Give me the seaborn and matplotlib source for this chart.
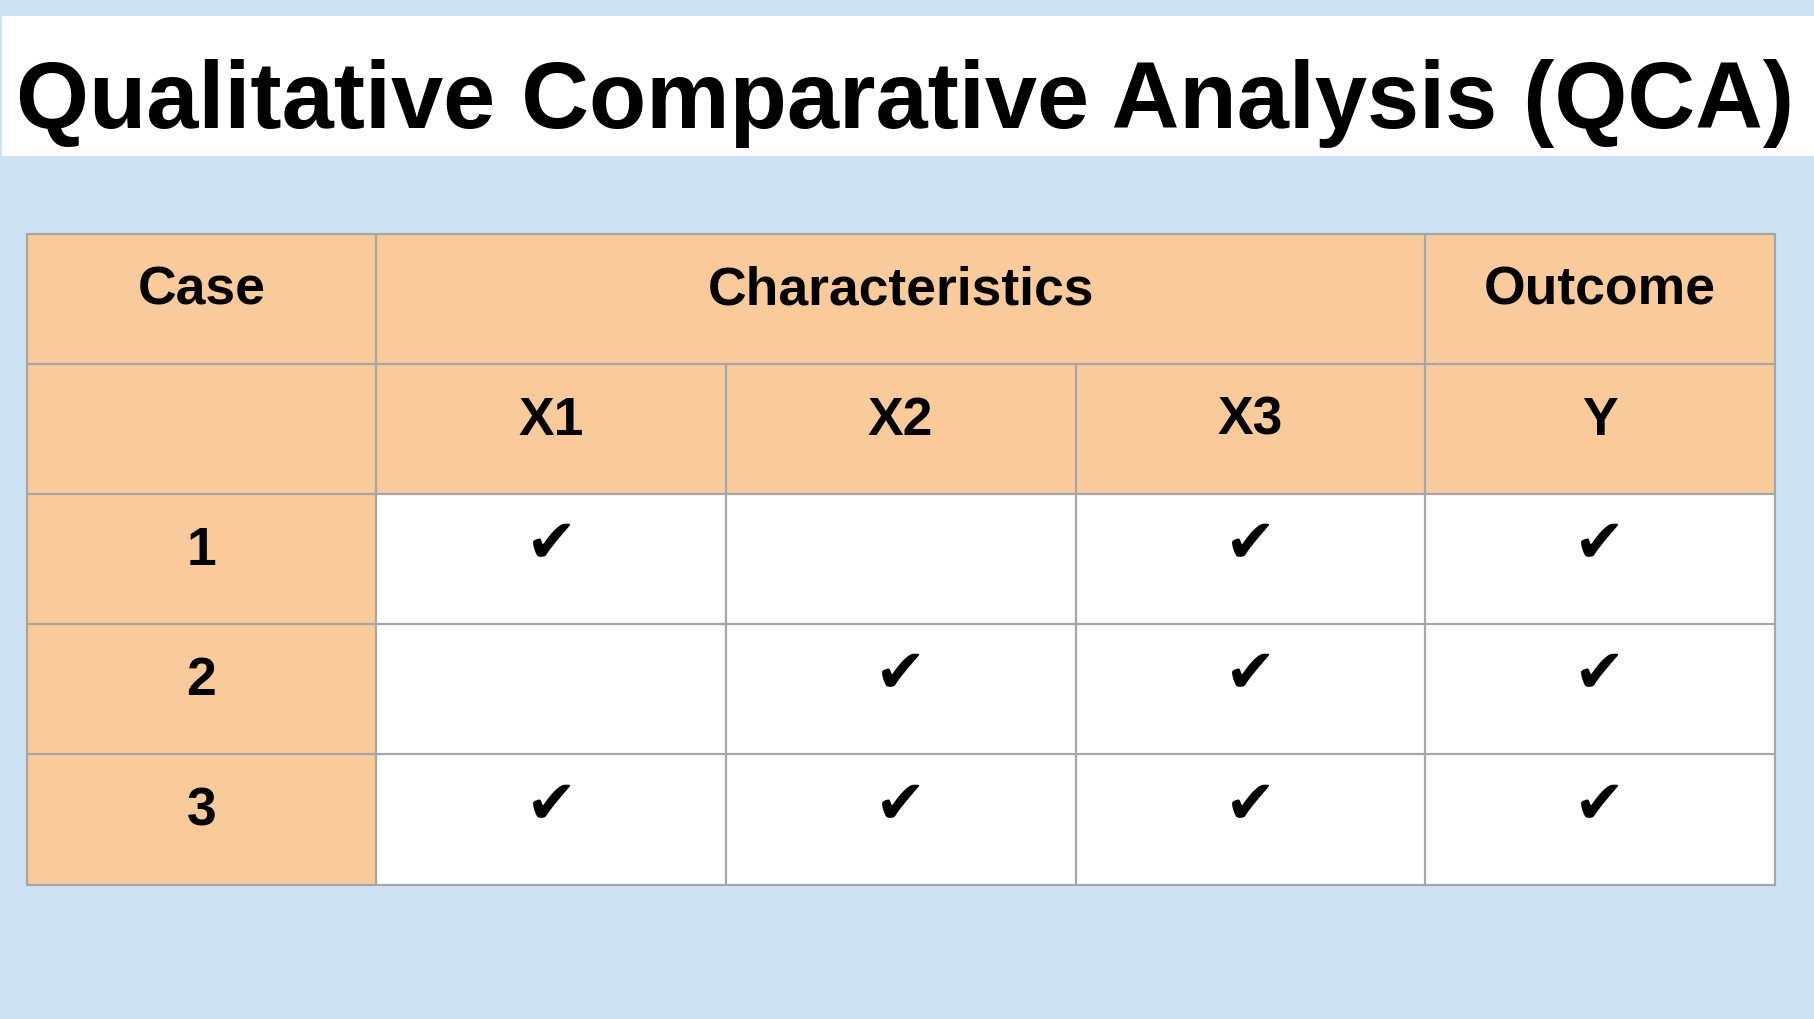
import numpy as np
import pandas as pd
import seaborn as sns
import matplotlib.pyplot as plt
from matplotlib.colors import ListedColormap
from matplotlib.patches import Rectangle

# ─────────────────────────────────────────────────────────────────────────────
# DATA
# ─────────────────────────────────────────────────────────────────────────────
title = "Qualitative Comparative Analysis (QCA)"
case_header = "Case"
group_header = "Characteristics"
outcome_header = "Outcome"

cases = ["1", "2", "3"]
characteristics = ["X1", "X2", "X3"]
outcome = "Y"

x1 = [1, 0, 1]
x2 = [0, 1, 1]
x3 = [1, 1, 1]
y_out = [1, 1, 1]

# ─────────────────────────────────────────────────────────────────────────────
# STYLE
# ─────────────────────────────────────────────────────────────────────────────
BG = "#cfe2f3"
HEADER = "#f9cb9c"
GRID = "#a6a6a6"
CHECK = "\u2714"

sns.set_style("white")
plt.rcParams["font.family"] = ["Liberation Sans", "DejaVu Sans"]

presence = pd.DataFrame({"X1": x1, "X2": x2, "X3": x3, outcome: y_out}, index=cases)
columns = list(presence.columns)
n_rows = len(cases) + 2
n_cols = len(columns) + 1

# 0 = header fill, 1 = white body cell
fill = np.ones((n_rows, n_cols))
fill[:2, :] = 0
fill[:, 0] = 0
fill_df = pd.DataFrame(fill)

fig = plt.figure(figsize=(18.15, 10.2), dpi=100, facecolor=BG)

# title band
fig.patches.append(Rectangle((1.7 / 1815, 1 - 157.3 / 1020), 1, 140 / 1020,
                             transform=fig.transFigure, facecolor="white",
                             edgecolor="none", zorder=0))
fig.text(905 / 1815, 1 - 128 / 1020, title, ha="center", va="baseline",
         fontsize=67.5, fontweight="bold", color="black")

ax = fig.add_axes([26.7 / 1815, 1 - 885.5 / 1020, 1748 / 1815, 650.5 / 1020])
sns.heatmap(fill_df, cmap=ListedColormap([HEADER, "white"]), vmin=0, vmax=1,
            cbar=False, xticklabels=False, yticklabels=False, ax=ax)

# grid lines (merged header cells skip inner verticals)
lw = 1.6
for r in range(n_rows + 1):
    ax.plot([0, n_cols], [r, r], color=GRID, lw=lw, clip_on=False)
for c in range(n_cols + 1):
    top = 1 if c in (2, 3) else 0
    ax.plot([c, c], [top, n_rows], color=GRID, lw=lw, clip_on=False)

txt = dict(ha="center", va="baseline", fontsize=38.5, fontweight="bold", color="black")
base = 0.535

ax.text(0.5, base, case_header, **txt)
ax.text(2.5, base, group_header, **txt)
ax.text(4.5, base, outcome_header, **txt)
for j, col in enumerate(columns):
    ax.text(j + 1.5, 1 + base, col, **txt)

for i, case in enumerate(cases):
    ax.text(0.5, i + 2 + base, case, **txt)
    for j, col in enumerate(columns):
        if presence.loc[case, col]:
            ax.text(j + 1.5, i + 2.39, CHECK, ha="center", va="center",
                    fontsize=44, color="black", family="DejaVu Sans")

ax.set_xlabel("")
ax.set_ylabel("")

fig.savefig("out.png", dpi=100, facecolor=BG)
